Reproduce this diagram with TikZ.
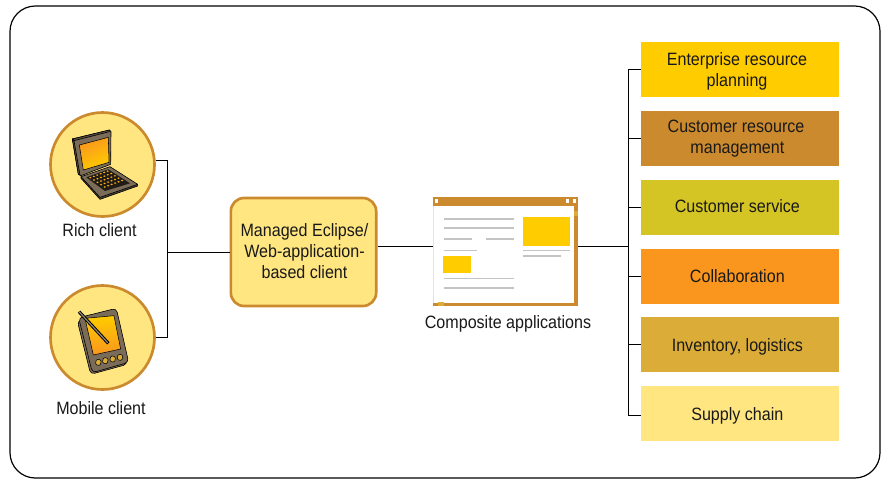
\documentclass[tikz,border=0pt]{standalone}
\usepackage{fontspec}
\setmainfont{Liberation Sans}[FakeStretch=0.9]
\newcommand{\pushdown}{\rule{0pt}{12.8pt}}
\definecolor{ochre}{HTML}{CC8A2E}
\definecolor{pale}{HTML}{FFE680}
\definecolor{gold}{HTML}{FFCC00}
\definecolor{olive}{HTML}{D4C424}
\definecolor{orangeb}{HTML}{FA961E}
\definecolor{mustard}{HTML}{DBAC38}
\definecolor{devgrey}{HTML}{7A6C58}
\definecolor{rulegrey}{HTML}{C4C4C4}
\tikzset{
  x=0.75pt,y=-0.75pt,
  lbl/.style={font=\fontsize{13.4pt}{16pt}\selectfont,align=center,inner sep=0pt,text=black!90},
  sysbox/.style={lbl,minimum width=148.5pt,minimum height=41.25pt},
  conn/.style={draw=black,line width=0.8pt},
  client/.style={circle,draw=ochre,fill=pale,line width=2pt,minimum size=78pt,inner sep=0pt},
  devline/.style={draw=black,line width=0.45pt,fill=devgrey,line join=round},
  uirule/.style={draw=rulegrey,line width=1.1pt},
}
\begin{document}
\begin{tikzpicture}
\useasboundingbox (0,0) rectangle (887,479);
\fill[white] (0,0) rectangle (887,479);
\draw[black,line width=0.9pt,rounded corners=19pt] (10,6) rectangle (880,478);
\node[client] (rich) at (102.5,164.5) {};
\node[client] (mobile) at (102.5,337.5) {};
\node[lbl] (richl) at (99.5,230) {Rich client};
\node[lbl] (mobl) at (101,408.5) {Mobile client};
\node[lbl,draw=ochre,fill=pale,line width=2pt,rounded corners=10pt,minimum width=109pt,minimum height=81pt] (mec) at (303.5,252) {};
\node[lbl] (mect) at (304.5,251) {Managed Eclipse/\\Web-application-\\based client};
\node[inner sep=0pt,minimum width=108.75pt,minimum height=70pt] (win) at (505.5,246.5) {};
\node[lbl] (winl) at (508,323.5) {Composite applications};
\node[sysbox,fill=gold] (s1) at (740,69.5) {\pushdown\hspace*{-4.5pt}Enterprise resource\\\hspace*{-4.5pt}planning};
\node[sysbox,fill=ochre] (s2) at (740,138.5) {\hspace*{-6pt}Customer resource\\\hspace*{-4pt}management};
\node[sysbox,fill=olive] (s3) at (740,207.5) {\raisebox{1.5pt}{\hspace*{-4pt}Customer service}};
\node[sysbox,fill=orangeb] (s4) at (740,276.5) {\hspace*{-4pt}Collaboration};
\node[sysbox,fill=mustard] (s5) at (740,344.5) {\pushdown\hspace*{-4pt}Inventory, logistics};
\node[sysbox,fill=pale] (s6) at (740,413.5) {\pushdown\hspace*{-4pt}Supply chain};
\coordinate (jl) at (167.5,252.5);
\coordinate (jr) at (628.5,246.5);
\draw[conn] (rich.4) -- (rich.4 -| jl) -- (mobile.east -| jl) -- (mobile.east);
\draw[conn] (jl) -- (jl -| mec.west);
\draw[conn] (win.west -| mec.east) -- (win.west);
\draw[conn] (win.east) -- (jr);
\coordinate (top) at (628.5,69.5);
\coordinate (bot) at (628.5,415.5);
\draw[conn] (top -| s1.west) -- (top) -- (bot) -- (bot -| s6.west);
\foreach \s in {s2,s3,s4,s5} \draw[conn] (\s.west -| jr) -- (\s.west);
% laptop (coordinates of a 3x crop)
\begin{scope}[shift={(65,125)},x=0.25pt,y=-0.25pt]
\fill[devline] (22,42) -- (133,15) -- (138,20) -- (137,118) -- (48,152) -- (40,148) -- cycle;
\draw[devline,fill=devgrey!75!black] (22,42) -- (27,47) -- (133,20) -- (133,15) -- cycle;
\draw[devline,fill=devgrey!75!black] (22,42) -- (27,47) -- (45,150) -- (40,148) -- cycle;
\shade[left color=orangeb,right color=gold,shading angle=25,draw=black,line width=0.4pt] (43,60) -- (130,37) -- (132,112) -- (55,135) -- cycle;
\draw[devline,fill=devgrey!60!black] (48,155) -- (48,160) -- (105,223) -- (218,183) -- (218,178) -- cycle;
\draw[devline] (48,155) -- (135,125) -- (218,178) -- (105,217) -- cycle;
\fill[black!75!devgrey] (64,157) -- (130,133) -- (195,175) -- (120,198) -- cycle;
\foreach \r in {0,...,4} \foreach \c in {0,...,5}
  \fill[orangeb!60!gold] ({76+\c*10.4+\r*10.8},{158-\c*3.9+\r*7.0}) ellipse (3.6 and 2.4);
\end{scope}
% PDA (coordinates of a 3x crop)
\begin{scope}[shift={(40,275)},x=0.25pt,y=-0.25pt]
\draw[devline,rounded corners=3pt] (112,138) -- (221,105) -- (262,268) -- (152,298) -- cycle;
\draw[devline,rounded corners=3pt] (116,128) -- (229,100) -- (266,262) -- (157,293) -- cycle;
\shade[top color=gold,bottom color=orangeb,draw=black,line width=0.4pt] (135,130) -- (222,122) -- (242,222) -- (160,240) -- cycle;
\foreach \bx/\by in {175/262,196/257,218/252,240/247}
  \draw[draw=black,line width=0.4pt,fill=mustard,rounded corners=1pt,rotate around={-13:(\bx,\by)}] (\bx-7.5,\by-8.5) rectangle (\bx+7.5,\by+8.5);
\draw[black,line width=2.4pt] (117,110) -- (205,205);
\draw[devgrey!80,line width=0.9pt] (117,110) -- (203,203);
\end{scope}
% window
\fill[ochre] (433,197) rectangle (578,306);
\fill[ochre!25] (433,206) rectangle (434,303);
\fill[white] (434,206) rectangle (574,303);
\fill[mustard] (574,211) rectangle (578,216);
\fill[mustard] (438,302) rectangle (444,306);
\fill[white] (435,199) rectangle (438,203);
\fill[white] (566,199) rectangle (569,203);
\fill[white] (573,199) rectangle (576,203);
\fill[gold] (523,217) rectangle (570,246);
\fill[gold] (443,256) rectangle (471,273);
\draw[uirule] (444,219) -- (514,219);
\draw[uirule] (444,228) -- (514,228);
\draw[uirule] (444,239) -- (472,239);
\draw[uirule] (486,239) -- (514,239);
\draw[uirule] (444,250.5) -- (477,250.5);
\draw[uirule] (444,278.5) -- (514,278.5);
\draw[uirule] (444,288) -- (514,288);
\draw[uirule] (523,250.5) -- (570,250.5);
\draw[uirule] (523,256) -- (561,256);
\end{tikzpicture}
\end{document}
